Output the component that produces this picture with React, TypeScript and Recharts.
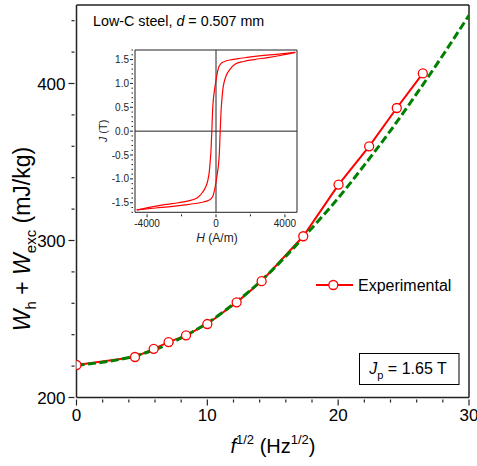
import { Legend, Line, LineChart, ReferenceLine, XAxis, YAxis } from "recharts";

const FONT = "'Liberation Sans', Arial, sans-serif";

// main panel: total loss per cycle vs sqrt(f)
const expSqrtF = [0, 4.47, 5.9, 7.04, 8.37, 10.0, 12.24, 14.15, 17.33, 20.03, 22.37, 24.48, 26.47];
const expLoss = [220.7, 225.8, 231.0, 235.3, 239.6, 246.8, 260.6, 274.1, 302.7, 335.6, 360.0, 384.4, 406.4];

const fitSqrtF = [0, 2, 4, 6, 8, 10, 12, 14, 16, 18, 20, 22, 24, 26, 28, 30];
const fitLoss = [220.5, 222.5, 225.5, 230.5, 238, 247.5, 259.5, 273.5, 290, 308, 327, 348, 370, 393.5, 418, 443.5];

const xTicks = [0, 2, 4, 6, 8, 10, 12, 14, 16, 18, 20, 22, 24, 26, 28, 30];
const yTicks = [200, 220, 240, 260, 280, 300, 320, 340, 360, 380, 400, 420, 440];

// inset: hysteresis loop J(H)
const descH = [-4600, -3800, -3000, -2200, -1600, -1100, -800, -600, -480, -400, -340, -290, -242, -200, -150, -80, 0, 50, 150, 300, 500, 800, 1200, 1800, 2500, 3500, 4600];
const descJ = [-1.65, -1.59, -1.54, -1.5, -1.46, -1.4, -1.29, -1.17, -1.04, -0.88, -0.65, -0.4, 0, 0.42, 0.68, 0.88, 1.07, 1.17, 1.33, 1.42, 1.46, 1.49, 1.515, 1.545, 1.575, 1.61, 1.65];
const ascH = [-4600, -3500, -2500, -1800, -1200, -800, -500, -300, -150, -50, 0, 80, 150, 200, 242, 290, 340, 400, 480, 600, 800, 1100, 1600, 2200, 3000, 3800, 4600];
const ascJ = [-1.65, -1.61, -1.575, -1.545, -1.515, -1.49, -1.46, -1.42, -1.33, -1.17, -1.07, -0.88, -0.68, -0.42, 0, 0.4, 0.65, 0.88, 1.04, 1.17, 1.29, 1.4, 1.46, 1.5, 1.54, 1.59, 1.65];

const hTicks = [-4000, -2000, 0, 2000, 4000];
const hLabels = [-4000, 0, 4000];
const jTicks = [-1.7, -1.6, -1.5, -1.4, -1.3, -1.2, -1.1, -1.0, -0.9, -0.8, -0.7, -0.6, -0.5, -0.4, -0.3, -0.2, -0.1, 0, 0.1, 0.2, 0.3, 0.4, 0.5, 0.6, 0.7, 0.8, 0.9, 1.0, 1.1, 1.2, 1.3, 1.4, 1.5, 1.6, 1.7];

const expData = expSqrtF.map((x, i) => ({ x, y: expLoss[i] }));
const fitData = fitSqrtF.map((x, i) => ({ x, y: fitLoss[i] }));
const descData = descH.map((h, i) => ({ h, j: descJ[i] }));
const ascData = ascH.map((h, i) => ({ h, j: ascJ[i] }));

const AXIS = "#222";

const MainXTick = (props: any) => {
  const { x, y, payload } = props;
  const major = payload.value % 10 === 0;
  return (
    <g>
      <line x1={x} x2={x} y1={y} y2={y + (major ? 6 : 3)} stroke={AXIS} strokeWidth={1.2} />
      {major && (
        <text x={x} y={y + 21} textAnchor="middle" fontSize={17} fontFamily={FONT} fill="#000">
          {payload.value}
        </text>
      )}
    </g>
  );
};

const MainYTick = (props: any) => {
  const { x, y, payload } = props;
  const major = payload.value % 100 === 0;
  return (
    <g>
      <line x1={x - (major ? 6 : 3)} x2={x} y1={y} y2={y} stroke={AXIS} strokeWidth={1.2} />
      {major && (
        <text x={x - 9} y={y + 6} textAnchor="end" fontSize={17} fontFamily={FONT} fill="#000">
          {payload.value}
        </text>
      )}
    </g>
  );
};

const InsetXTick = (props: any) => {
  const { x, y, payload } = props;
  const major = hLabels.includes(payload.value);
  return (
    <g>
      <line x1={x} x2={x} y1={y} y2={y + (major ? 3 : 2)} stroke={AXIS} strokeWidth={1} />
      {major && (
        <text x={x} y={y + 13} textAnchor="middle" fontSize={10} fontFamily={FONT} fill="#222">
          {payload.value}
        </text>
      )}
    </g>
  );
};

const InsetYTick = (props: any) => {
  const { x, y, payload } = props;
  const v = payload.value;
  const major = Math.abs(v * 2 - Math.round(v * 2)) < 1e-6 && Math.abs(v) < 1.6;
  return (
    <g>
      <line x1={x - (major ? 3 : 1.5)} x2={x} y1={y} y2={y} stroke={AXIS} strokeWidth={1} />
      {major && (
        <text x={x - 4} y={y + 3.5} textAnchor="end" fontSize={10} fontFamily={FONT} fill="#222">
          {v.toFixed(1)}
        </text>
      )}
    </g>
  );
};

const MainXLabel = () => (
  <text x={273} y={453} textAnchor="middle" fontSize={20} fontFamily={FONT} fill="#000">
    <tspan fontStyle="italic">f</tspan>
    <tspan fontSize={13} dy={-9}>1/2</tspan>
    <tspan dy={9}> (Hz</tspan>
    <tspan fontSize={13} dy={-9}>1/2</tspan>
    <tspan dy={9}>)</tspan>
  </text>
);

const MainYLabel = () => (
  <text transform="translate(30,239) rotate(-90)" textAnchor="middle" fontSize={23} fontFamily={FONT} fill="#000">
    <tspan fontStyle="italic">W</tspan>
    <tspan fontSize={15} dy={6}>h</tspan>
    <tspan dy={-6}> + </tspan>
    <tspan fontStyle="italic">W</tspan>
    <tspan fontSize={15} dy={6}>exc</tspan>
    <tspan dy={-6}> (mJ/kg)</tspan>
  </text>
);

const InsetXLabel = () => (
  <text x={125} y={194} textAnchor="middle" fontSize={12} fontFamily={FONT} fill="#222">
    <tspan fontStyle="italic">H</tspan> (A/m)
  </text>
);

const InsetYLabel = () => (
  <text transform="translate(15,83) rotate(-90)" textAnchor="middle" fontSize={11} fontFamily={FONT} fill="#222">
    <tspan fontStyle="italic">J</tspan> (T)
  </text>
);

const LegendBox = () => (
  <svg width={160} height={22}>
    <line x1={6} x2={43} y1={10} y2={10} stroke="#ff0000" strokeWidth={2} />
    <circle cx={23.3} cy={10} r={4.5} fill="#fff" stroke="#ff0000" strokeWidth={1.3} />
    <text x={48} y={15.5} fontSize={16} fontFamily={FONT} fill="#000">
      Experimental
    </text>
  </svg>
);

export default function App() {
  return (
    <div style={{ position: "absolute", left: 0, top: 0, width: 477, height: 466, background: "#fff" }}>
      <LineChart width={477} height={466} margin={{ top: 5, right: 8, bottom: 0, left: 0 }}>
        <XAxis
          type="number"
          dataKey="x"
          domain={[0, 30]}
          ticks={xTicks}
          interval={0}
          tickSize={0}
          tickLine={false}
          tick={<MainXTick />}
          height={68.5}
          stroke={AXIS}
          strokeWidth={1.5}
          allowDataOverflow
          label={<MainXLabel />}
        />
        <YAxis
          type="number"
          domain={[200, 450]}
          ticks={yTicks}
          interval={0}
          tickSize={0}
          tickLine={false}
          tick={<MainYTick />}
          width={76.5}
          stroke={AXIS}
          strokeWidth={1.5}
          allowDataOverflow
          label={<MainYLabel />}
        />
        <ReferenceLine y={450} stroke={AXIS} strokeWidth={1.5} />
        <ReferenceLine x={30} stroke={AXIS} strokeWidth={1.5} />
        <Line
          data={expData}
          dataKey="y"
          type="linear"
          stroke="#ff0000"
          strokeWidth={2}
          dot={false}
          isAnimationActive={false}
        />
        <Line
          data={fitData}
          dataKey="y"
          type="monotone"
          stroke="#008000"
          strokeWidth={3}
          strokeDasharray="8 3.5"
          dot={false}
          isAnimationActive={false}
        />
        <Line
          data={expData}
          dataKey="y"
          stroke="none"
          dot={{ r: 4.5, fill: "#fff", stroke: "#ff0000", strokeWidth: 1.3 }}
          isAnimationActive={false}
        />
        <Legend
          layout="horizontal"
          verticalAlign="middle"
          align="center"
          content={<LegendBox />}
          wrapperStyle={{ position: "absolute", left: 310, top: 275, width: 160, height: 22 }}
        />
      </LineChart>

      <svg width={477} height={466} style={{ position: "absolute", left: 0, top: 0, pointerEvents: "none" }}>
        <text x={93} y={25.7} fontSize={14.3} fontFamily={FONT} fill="#000">
          Low-C steel, <tspan fontStyle="italic">d</tspan> = 0.507 mm
        </text>
        <rect x={359.5} y={353.5} width={99.5} height={31} fill="none" stroke="#000" strokeWidth={1} />
        <text x={408} y={373.5} textAnchor="middle" fontSize={16} fontFamily={FONT} fill="#000">
          <tspan fontStyle="italic">J</tspan>
          <tspan fontSize={11} dy={5}>p</tspan>
          <tspan dy={-5}> = 1.65 T</tspan>
        </text>
      </svg>

      <div style={{ position: "absolute", left: 92, top: 48 }}>
        <LineChart width={208} height={200} margin={{ top: 2, right: 3, bottom: 0, left: 0 }}>
          <XAxis
            type="number"
            dataKey="h"
            domain={[-4700, 4700]}
            ticks={hTicks}
            interval={0}
            tickSize={0}
            tickLine={false}
            tick={<InsetXTick />}
            height={35.7}
            stroke={AXIS}
            allowDataOverflow
            label={<InsetXLabel />}
          />
          <YAxis
            type="number"
            domain={[-1.7, 1.7]}
            ticks={jTicks}
            interval={0}
            tickSize={0}
            tickLine={false}
            tick={<InsetYTick />}
            width={43}
            stroke={AXIS}
            allowDataOverflow
            label={<InsetYLabel />}
          />
          <ReferenceLine y={1.7} stroke={AXIS} />
          <ReferenceLine x={4700} stroke={AXIS} />
          <ReferenceLine y={0} stroke={AXIS} />
          <ReferenceLine x={0} stroke={AXIS} />
          <Line data={descData} dataKey="j" type="monotone" stroke="#ff0000" strokeWidth={1.2} dot={false} isAnimationActive={false} />
          <Line data={ascData} dataKey="j" type="monotone" stroke="#ff0000" strokeWidth={1.2} dot={false} isAnimationActive={false} />
        </LineChart>
      </div>
    </div>
  );
}
